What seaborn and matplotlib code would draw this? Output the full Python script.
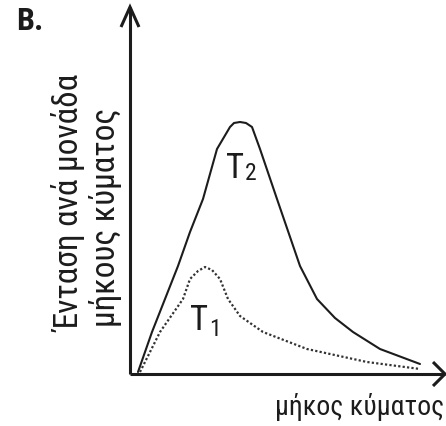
import matplotlib
matplotlib.use("Agg")
import matplotlib.pyplot as plt
import seaborn as sns
import pandas as pd

# Data (arbitrary units: wavelength vs intensity)
t2_wavelength = [8, 22, 35, 48, 60, 73, 87, 100, 104, 110, 116, 122, 130, 147, 170, 187, 205, 223, 250, 290]
t2_intensity = [2, 42, 75, 108, 142, 175, 225, 247, 251, 252, 251, 247, 225, 175, 108, 75, 56, 42, 25, 10]
t1_wavelength = [10, 30, 53, 60, 68, 75, 82, 90, 98, 110, 133, 177, 237, 290]
t1_intensity = [2, 42, 75, 95, 103, 107, 104, 95, 75, 58, 42, 25, 12, 5]

x_label = "μήκος κύματος"
y_label_1 = "Ένταση ανά μονάδα"
y_label_2 = "μήκους κύματος"
panel_label = "B."
curve_names = ["T", "T"]
curve_subscripts = ["2", "1"]

sns.set_style("white")
plt.rcParams["font.family"] = ["Roboto Condensed", "Liberation Sans", "DejaVu Sans"]

INK = "#1c1c1c"
W, H = 446, 427
fig = plt.figure(figsize=(W / 100, H / 100), dpi=100)
ax = fig.add_axes([130 / W, (H - 375) / H, 315 / W, 367 / H])

df2 = pd.DataFrame({"x": t2_wavelength, "y": t2_intensity})
df1 = pd.DataFrame({"x": t1_wavelength, "y": t1_intensity})
sns.lineplot(data=df2, x="x", y="y", ax=ax, color=INK, lw=1.5, sort=False)
sns.lineplot(data=df1, x="x", y="y", ax=ax, color="#333333", lw=1.6,
             linestyle=(0, (1, 1)), sort=False)

ax.set_xlim(0, 315)
ax.set_ylim(0, 367)
for s in ax.spines.values():
    s.set_visible(False)
ax.set_xticks([])
ax.set_yticks([])
ax.set_xlabel("")
ax.set_ylabel("")

# axes with open arrowheads (axes fraction coordinates)
kw = dict(transform=ax.transAxes, color=INK, lw=2.2, clip_on=False,
          solid_capstyle="butt", solid_joinstyle="miter")
ax.plot([0, 0], [0, 1], **kw)
ax.plot([0, 1], [0, 0], **kw)
ax.plot([-9 / 315, 0, 9 / 315], [1 - 20 / 367, 1, 1 - 20 / 367], **kw)
ax.plot([1 - 12 / 315, 1, 1 - 12 / 315], [12 / 367, 0, -12 / 367], **kw)

# curve labels: T with subscript placed right after the T
t2 = ax.text(96, 197, curve_names[0], fontsize=25, ha="left", va="baseline", color=INK)
ax.annotate(curve_subscripts[0], xy=(1, 0), xycoords=t2, xytext=(0.5, 0),
            textcoords="offset points", fontsize=17, ha="left", va="bottom", color=INK)
t1 = ax.text(60, 45, curve_names[1], fontsize=25, ha="left", va="baseline", color=INK)
ax.annotate(curve_subscripts[1], xy=(1, 0), xycoords=t1, xytext=(0.5, -3),
            textcoords="offset points", fontsize=17, ha="left", va="bottom", color=INK)

# axis titles
fig.text(444 / W, 1 - 415 / H, x_label, fontsize=20, ha="right", va="baseline", color=INK)
fig.text(69 / W, 1 - 332 / H, y_label_1, fontsize=24, rotation=90, ha="center", va="bottom", color=INK)
fig.text(105 / W, 1 - 327 / H, y_label_2, fontsize=24, rotation=90, ha="center", va="bottom", color=INK)

fig.text(16 / W, 1 - 30 / H, panel_label, fontsize=23, fontweight="bold", ha="left", va="baseline", color=INK)

fig.savefig("out.png", dpi=100)
